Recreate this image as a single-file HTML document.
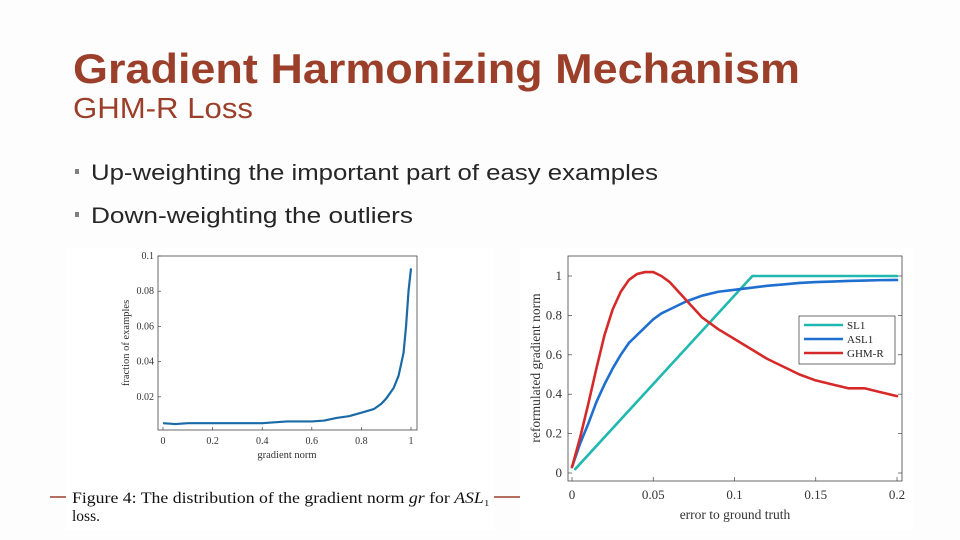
<!DOCTYPE html>
<html><head><meta charset="utf-8"><style>
html,body{margin:0;padding:0;background:#fff;width:960px;height:540px;overflow:hidden}
svg{display:block}
</style></head><body>
<svg id="s" width="960" height="540" xmlns="http://www.w3.org/2000/svg">
<rect width="960" height="540" fill="#fdfdfd"/>
<text x="73" y="83" font-family="Liberation Sans, sans-serif" font-weight="bold" font-size="42" fill="#9c3f2a" textLength="727" lengthAdjust="spacingAndGlyphs">Gradient Harmonizing Mechanism</text>
<text x="73" y="118" font-family="Liberation Sans, sans-serif" font-size="29" fill="#9c3f2a" textLength="180" lengthAdjust="spacingAndGlyphs">GHM-R Loss</text>
<rect x="75" y="169" width="4" height="5" fill="#808080"/>
<text x="91" y="180" font-family="Liberation Sans, sans-serif" font-size="22" fill="#262626" textLength="567" lengthAdjust="spacingAndGlyphs">Up-weighting the important part of easy examples</text>
<rect x="75" y="212" width="4" height="5" fill="#808080"/>
<text x="91" y="223" font-family="Liberation Sans, sans-serif" font-size="22" fill="#262626" textLength="322" lengthAdjust="spacingAndGlyphs">Down-weighting the outliers</text>
<line x1="50" y1="497" x2="66" y2="497" stroke="#9c3f2a" stroke-width="1.5"/>
<line x1="494" y1="497" x2="520" y2="497" stroke="#9c3f2a" stroke-width="1.5"/>
<rect x="66" y="248" width="428" height="282" fill="#fff"/>
<rect x="520" y="248" width="393" height="282" fill="#fff"/>
<g id="L"></g>
<g id="R"></g>
<text x="72" y="503" font-family="Liberation Serif, serif" font-size="15.5" fill="#111" textLength="418" lengthAdjust="spacingAndGlyphs">Figure 4: The distribution of the gradient norm <tspan font-style="italic">gr</tspan> for <tspan font-style="italic">ASL</tspan>₁</text>
<text x="72" y="521" font-family="Liberation Serif, serif" font-size="15.5" fill="#111">loss.</text>
</svg>
<script>
// Left chart data
const leftX = [0,0.05,0.1,0.2,0.3,0.4,0.5,0.6,0.65,0.7,0.75,0.8,0.85,0.88,0.9,0.93,0.95,0.97,0.98,0.99,1.0];
const leftY = [0.005,0.0045,0.005,0.005,0.005,0.005,0.006,0.006,0.0065,0.008,0.009,0.011,0.013,0.016,0.019,0.025,0.032,0.045,0.06,0.08,0.093];
const leftXTicks = [0,0.2,0.4,0.6,0.8,1];
const leftXTickLabels = ["0","0.2","0.4","0.6","0.8","1"];
const leftYTicks = [0.02,0.04,0.06,0.08,0.1];
const leftYTickLabels = ["0.02","0.04","0.06","0.08","0.1"];
// Right chart data
const rightSL1X = [0.002,0.111,0.2];
const rightSL1Y = [0.02,1,1];
const rightX = [0,0.005,0.01,0.015,0.02,0.025,0.03,0.035,0.04,0.045,0.05,0.055,0.06,0.07,0.08,0.09,0.1,0.11,0.12,0.13,0.14,0.15,0.16,0.17,0.18,0.19,0.2];
const rightASL1 = [0.03,0.15,0.25,0.36,0.45,0.53,0.6,0.66,0.7,0.74,0.78,0.81,0.83,0.87,0.9,0.92,0.93,0.94,0.95,0.957,0.965,0.969,0.972,0.975,0.977,0.979,0.98];
const rightGHMR = [0.03,0.18,0.35,0.53,0.7,0.83,0.92,0.98,1.01,1.02,1.02,1.0,0.97,0.88,0.79,0.73,0.68,0.63,0.58,0.54,0.5,0.47,0.45,0.43,0.43,0.41,0.39];
const rightXTicks = [0,0.05,0.1,0.15,0.2];
const rightXTickLabels = ["0","0.05","0.1","0.15","0.2"];
const rightYTicks = [0,0.2,0.4,0.6,0.8,1];
const rightYTickLabels = ["0","0.2","0.4","0.6","0.8","1"];
const legendNames = ["SL1","ASL1","GHM-R"];
const legendColors = ["#20b8b0","#1f6fd0","#d62a2a"];

const NS="http://www.w3.org/2000/svg";
function mk(parent,tag,attrs){const e=document.createElementNS(NS,tag);for(const k in attrs)e.setAttribute(k,attrs[k]);parent.appendChild(e);return e;}
function lin(d0,d1,r0,r1){return v=>r0+(v-d0)/(d1-d0)*(r1-r0);}

// LEFT
(function(){
const g=document.getElementById('L');
const sx=lin(0,1,163,411), sy=lin(0,0.1,432,256);
const box=mk(g,'rect',{x:158,y:256,width:259,height:174,fill:'none',stroke:'#444','stroke-width':0.8});


leftXTicks.forEach((v,i)=>{
 mk(g,'line',{x1:sx(v),y1:430,x2:sx(v),y2:427,stroke:'#444','stroke-width':0.7});
 const t=mk(g,'text',{x:sx(v),y:444,'text-anchor':'middle','font-family':'Liberation Serif, serif','font-size':10,fill:'#333'});
 t.textContent=leftXTickLabels[i];
 
 
});
leftYTicks.forEach((v,i)=>{
 mk(g,'line',{x1:158,y1:sy(v),x2:161,y2:sy(v),stroke:'#444','stroke-width':0.7});
 const t=mk(g,'text',{x:154,y:sy(v)+3,'text-anchor':'end','font-family':'Liberation Serif, serif','font-size':10,fill:'#333'});
 t.textContent=leftYTickLabels[i];
 
 
});
const xl=mk(g,'text',{x:287,y:458,'text-anchor':'middle','font-family':'Liberation Serif, serif','font-size':10.5,fill:'#333'});
xl.textContent='gradient norm';


const yl=mk(g,'text',{x:0,y:0,transform:'translate(129,343) rotate(-90)','text-anchor':'middle','font-family':'Liberation Serif, serif','font-size':10.5,fill:'#333'});
yl.textContent='fraction of examples';


const p=mk(g,'polyline',{points:leftX.map((x,i)=>sx(x)+','+sy(leftY[i])).join(' '),fill:'none',stroke:'#1a6aa6','stroke-width':2.2,'stroke-linejoin':'round'});


})();

// RIGHT
(function(){
const g=document.getElementById('R');
const sx=lin(0,0.2,572,897), sy=lin(0,1,473,276);
const box=mk(g,'rect',{x:568,y:256,width:334,height:225,fill:'none',stroke:'#444','stroke-width':0.8});


rightXTicks.forEach((v,i)=>{
 mk(g,'line',{x1:sx(v),y1:481,x2:sx(v),y2:477,stroke:'#444','stroke-width':0.7});
 const t=mk(g,'text',{x:sx(v),y:499,'text-anchor':'middle','font-family':'Liberation Serif, serif','font-size':13,fill:'#333'});
 t.textContent=rightXTickLabels[i];
 
 
});
rightYTicks.forEach((v,i)=>{
 mk(g,'line',{x1:568,y1:sy(v),x2:572,y2:sy(v),stroke:'#444','stroke-width':0.7});
 mk(g,'line',{x1:902,y1:sy(v),x2:898,y2:sy(v),stroke:'#444','stroke-width':0.7});
 const t=mk(g,'text',{x:562,y:sy(v)+4,'text-anchor':'end','font-family':'Liberation Serif, serif','font-size':13,fill:'#333'});
 t.textContent=rightYTickLabels[i];
 
 
});
const xl=mk(g,'text',{x:735,y:519,'text-anchor':'middle','font-family':'Liberation Serif, serif','font-size':13.5,fill:'#333'});
xl.textContent='error to ground truth';


const yl=mk(g,'text',{x:0,y:0,transform:'translate(540,368) rotate(-90)','text-anchor':'middle','font-family':'Liberation Serif, serif','font-size':13.5,fill:'#333'});
yl.textContent='reformulated gradient norm';


const series=[[rightSL1X,rightSL1Y],[rightX,rightASL1],[rightX,rightGHMR]];
series.forEach((s,k)=>{
 const p=mk(g,'polyline',{points:s[0].map((x,i)=>sx(x)+','+sy(s[1][i])).join(' '),fill:'none',stroke:legendColors[k],'stroke-width':2.6,'stroke-linejoin':'round','stroke-linecap':'round'});
 
 
});
const lb=mk(g,'rect',{x:799,y:316,width:96,height:48,fill:'#fff',stroke:'#333','stroke-width':0.7});


legendNames.forEach((n,k)=>{
 const y=325+k*14;
 mk(g,'line',{x1:804,y1:y,x2:843,y2:y,stroke:legendColors[k],'stroke-width':2.6});
 const t=mk(g,'text',{x:847,y:y+4,'font-family':'Liberation Serif, serif','font-size':11,fill:'#222'});
 t.textContent=n;
 
 
});
})();
</script>
</body></html>
